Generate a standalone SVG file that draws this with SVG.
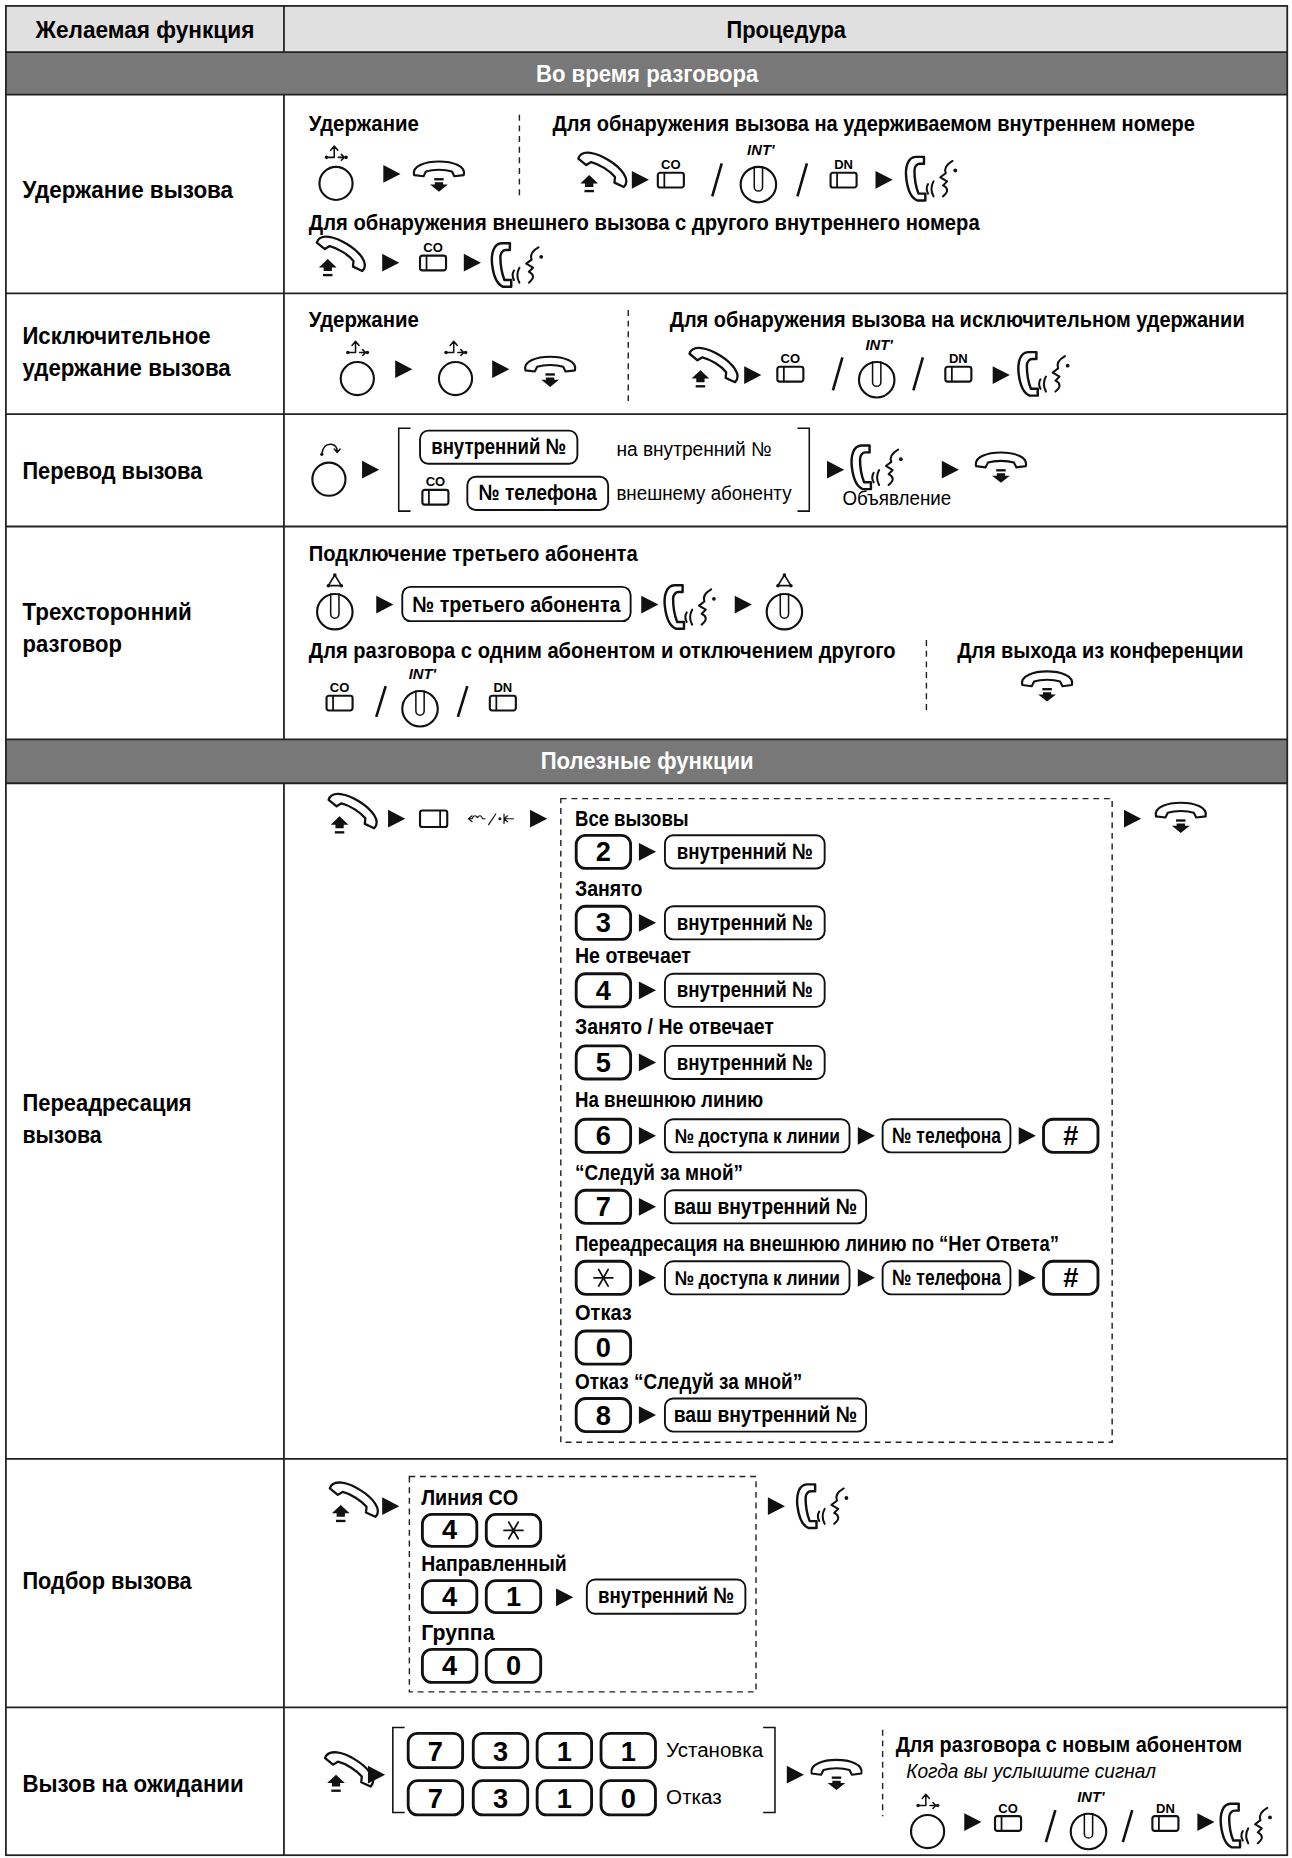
<svg xmlns="http://www.w3.org/2000/svg" width="1292" height="1858" viewBox="0 0 1292 1858">
<style>
text{font-family:"Liberation Sans Narrow","Liberation Sans",Arial,sans-serif;fill:#000}
.b{font-weight:bold;font-size:20px}
.s{font-weight:bold;font-size:19px}
.bx{font-weight:bold;font-size:18.5px;text-anchor:middle}
.n{font-weight:normal;font-size:17px}
.it{font-weight:normal;font-style:italic;font-size:17px}
.w{fill:#fff}
.k{font-weight:bold;font-size:23px;text-anchor:middle}
.lbl{font-family:"Liberation Sans",Arial,sans-serif;font-weight:bold;font-size:11px;text-anchor:middle}
.intl{font-family:"Liberation Sans",Arial,sans-serif;font-weight:bold;font-style:italic;font-size:12.5px;text-anchor:middle}
.grid{stroke:#222;stroke-width:1.5;fill:none}
.dash{stroke:#222;stroke-width:1.2;stroke-dasharray:5 4;fill:none}
.box{fill:#fff;stroke:#111;stroke-width:1.6}
.key{fill:#fff;stroke:#111;stroke-width:2.4}
.ic{fill:#fff;stroke:#111;stroke-width:1.8;stroke-linejoin:round}
.cl{fill:#fff;stroke:#111;stroke-width:1.8}
.thin{fill:none;stroke:#111;stroke-width:1.3;stroke-linecap:round;stroke-linejoin:round}
.ln2{fill:none;stroke:#111;stroke-width:1.5;stroke-linecap:round;stroke-linejoin:round}
.sl{stroke:#111;stroke-width:2.2}
.br{fill:none;stroke:#111;stroke-width:1.3}
</style>
<defs>
<polygon id="tri" points="-7,-7.5 7.5,0 -7,7.5" fill="#111"/>
<path id="hs" d="M-21,0 C-23,-8 -11,-11.5 0,-11.5 C11,-11.5 23,-8 21,0 L13,1 L11,-3 C5,-5 -5,-5 -11,-3 L-13,1 Z"/>
<g id="onhook"><use href="#hs" class="ic"/><path d="M-4,3.5 H4" stroke="#111" stroke-width="2"/><polygon points="-3.5,6 3.5,6 3.5,8 7.5,8 0,14 -7.5,8 -3.5,8" fill="#111"/></g>
<g id="offhook"><use href="#hs" class="ic" transform="translate(4,-4) rotate(32) scale(1.08)"/><polygon points="-6,-2 1.5,5 -2.5,5 -2.5,8 -9.5,8 -9.5,5 -13.5,5" fill="#111"/><path d="M-10,11.5 H-2" stroke="#111" stroke-width="2"/></g>
<g id="talk"><g transform="scale(1.15)"><path class="ic" d="M-7,-16 L-13,-16 C-19,-16 -21,-8 -20,0 C-19,8 -17,14 -12,16 L-6,16 L-6,11 L-11,11 C-13,6 -14,0 -14,-6 C-14,-9 -12,-11 -10,-11 L-7,-11 Z"/><path class="ln2" d="M-4,4 Q-6,7.5 -4,11 M0,2 Q-3,7.5 0,13"/><path class="ln2" d="M14,-13 Q7,-9 9,-4 L5,-1 L10,2 L7,5 Q13,8 7,13"/><circle cx="16" cy="-6" r="1.4" fill="#111"/></g></g>
<g id="hold"><circle r="14" class="cl"/><path class="thin" d="M-7,-22 H-1.5 V-31 M-4.5,-28 L-1.5,-31.5 L1.5,-28 M2,-22 H7 M4.5,-24.5 L7,-22 L4.5,-19.5"/><circle cx="-8" cy="-22" r="1.5" fill="#111"/><circle cx="8.5" cy="-22" r="1.5" fill="#111"/></g>
<g id="xfer"><circle r="14" class="cl"/><path class="thin" d="M-6,-21 Q-5,-30 2,-29.5 Q7,-29 7,-23 M4.5,-25.5 L7,-22.5 L9.5,-25.5"/><circle cx="-6" cy="-21" r="1.4" fill="#111"/></g>
<path id="slot" class="thin" d="M-3.5,-15 V2 A3.5,3.5 0 0 0 3.5,2 V-15"/>
<g id="conf"><circle r="15" class="cl"/><use href="#slot"/><polygon points="0,-31 -5.5,-22 5.5,-22" fill="none" stroke="#111" stroke-width="1.4"/><circle cx="0" cy="-31" r="1.5" fill="#111"/><circle cx="-5.5" cy="-22" r="1.5" fill="#111"/><circle cx="5.5" cy="-22" r="1.5" fill="#111"/></g>
<g id="int"><circle r="15" class="cl"/><use href="#slot"/><text x="2" y="-25" class="intl">INT'</text></g>
<g id="co"><text y="-9" class="lbl">CO</text><rect x="-11" y="-6" width="22" height="12.5" rx="2" class="ic"/><path d="M-5.5,-6 V6.5" stroke="#111" stroke-width="1.5"/></g>
<g id="dn"><text y="-9" class="lbl">DN</text><rect x="-11" y="-6" width="22" height="12.5" rx="2" class="ic"/><path d="M-5.5,-6 V6.5" stroke="#111" stroke-width="1.5"/></g>
<path id="ast" class="ln2" d="M-8,0 H8 M-4,-7 L4,7 M-4,7 L4,-7"/>
</defs>
<rect width="1292" height="1858" fill="#fff"/>
<g transform="scale(1.18315)">

<g id="table">
<rect x="5" y="5" width="1083" height="39" fill="#e0e0e0"/>
<rect x="5" y="44" width="1083" height="36" fill="#787878"/>
<rect x="5" y="625" width="1083" height="37" fill="#787878"/>
<rect x="5" y="5" width="1083" height="1563" class="grid"/>
<path class="grid" d="M5,44 H1088 M5,80 H1088 M5,248 H1088 M5,350 H1088 M5,445 H1088 M5,625 H1088 M5,662 H1088 M5,1233 H1088 M5,1443 H1088 M240,5 V44 M240,80 V625 M240,662 V1568"/>
<text class="b" x="30" y="32" textLength="185" lengthAdjust="spacingAndGlyphs">Желаемая функция</text>
<text class="b" x="614" y="32" textLength="101" lengthAdjust="spacingAndGlyphs">Процедура</text>
<text class="b w" x="453" y="69" textLength="188" lengthAdjust="spacingAndGlyphs">Во время разговора</text>
<text class="b w" x="457" y="650" textLength="180" lengthAdjust="spacingAndGlyphs">Полезные функции</text>
</g>

<g id="row-hold">
<text class="b" x="19" y="167" textLength="178" lengthAdjust="spacingAndGlyphs">Удержание вызова</text>
<text class="s" x="261" y="111" textLength="93" lengthAdjust="spacingAndGlyphs">Удержание</text>
<text class="s" x="467" y="111" textLength="543" lengthAdjust="spacingAndGlyphs">Для обнаружения вызова на удерживаемом внутреннем номере</text>
<path class="dash" d="M439,97 V165"/>
<use href="#hold" x="284" y="155"/>
<use href="#onhook" x="371" y="148"/>
<use href="#offhook" x="504" y="150"/>
<use href="#co" x="567" y="152"/>
<use href="#int" x="641" y="156"/>
<use href="#dn" x="713" y="152"/>
<use href="#talk" x="789" y="151"/>
<text class="s" x="261" y="194" textLength="567" lengthAdjust="spacingAndGlyphs">Для обнаружения внешнего вызова с другого внутреннего номера</text>
<use href="#offhook" x="283" y="221"/>
<use href="#co" x="366" y="222"/>
<use href="#talk" x="439" y="224"/>
</g>

<g id="row-exclusive">
<text class="b" x="19" y="291" textLength="159" lengthAdjust="spacingAndGlyphs">Исключительное</text>
<text class="b" x="19" y="318" textLength="176" lengthAdjust="spacingAndGlyphs">удержание вызова</text>
<text class="s" x="261" y="276" textLength="93" lengthAdjust="spacingAndGlyphs">Удержание</text>
<text class="s" style="font-size:18px" x="566" y="276" textLength="486" lengthAdjust="spacingAndGlyphs">Для обнаружения вызова на исключительном удержании</text>
<path class="dash" d="M531,262 V340"/>
<use href="#hold" x="302" y="320"/>
<use href="#hold" x="385" y="320"/>
<use href="#onhook" x="465" y="313"/>
<use href="#offhook" x="598" y="315"/>
<use href="#co" x="668" y="316"/>
<use href="#int" x="741" y="321"/>
<use href="#dn" x="810" y="316"/>
<use href="#talk" x="884" y="316"/>
</g>

<g id="row-transfer">
<text class="b" x="19" y="405" textLength="152" lengthAdjust="spacingAndGlyphs">Перевод вызова</text>
<use href="#xfer" x="278" y="405"/>
<path class="br" d="M347,362 H337 V432 H347 M674,362 H684 V432 H674"/>
<rect x="355" y="364" width="133" height="28" rx="7" class="box"/>
<text class="bx" x="421.5" y="384" textLength="114" lengthAdjust="spacingAndGlyphs">внутренний №</text>
<text class="n" x="521" y="385" textLength="131" lengthAdjust="spacingAndGlyphs">на внутренний №</text>
<use href="#co" x="368" y="420"/>
<rect x="395" y="403" width="119" height="28" rx="7" class="box"/>
<text class="bx" x="454.5" y="423" textLength="100" lengthAdjust="spacingAndGlyphs">№ телефона</text>
<text class="n" x="521" y="423" textLength="148" lengthAdjust="spacingAndGlyphs">внешнему абоненту</text>
<use href="#talk" x="743" y="395"/>
<text class="n" x="712" y="427" textLength="92" lengthAdjust="spacingAndGlyphs">Объявление</text>
<use href="#onhook" x="846" y="394"/>
</g>

<g id="row-conference">
<text class="b" x="19" y="524" textLength="143" lengthAdjust="spacingAndGlyphs">Трехсторонний</text>
<text class="b" x="19" y="551" textLength="84" lengthAdjust="spacingAndGlyphs">разговор</text>
<text class="s" x="261" y="474" textLength="278" lengthAdjust="spacingAndGlyphs">Подключение третьего абонента</text>
<use href="#conf" x="283" y="517"/>
<rect x="340" y="496" width="193" height="29" rx="7" class="box"/>
<text class="bx" x="436.5" y="517" textLength="176" lengthAdjust="spacingAndGlyphs">№ третьего абонента</text>
<use href="#talk" x="585" y="513"/>
<use href="#conf" x="663" y="517"/>
<text class="s" style="font-size:18px" x="261" y="556" textLength="496" lengthAdjust="spacingAndGlyphs">Для разговора с одним абонентом и отключением другого</text>
<path class="dash" d="M783,541 V604"/>
<text class="s" style="font-size:18px" x="809" y="556" textLength="242" lengthAdjust="spacingAndGlyphs">Для выхода из конференции</text>
<use href="#co" x="287" y="594"/>
<use href="#int" x="355" y="599"/>
<use href="#dn" x="425" y="594"/>
<use href="#onhook" x="885" y="579"/>
</g>

<g id="row-forward">
<text class="b" x="19" y="939" textLength="143" lengthAdjust="spacingAndGlyphs">Переадресация</text>
<text class="b" x="19" y="966" textLength="67" lengthAdjust="spacingAndGlyphs">вызова</text>
<use href="#offhook" x="293" y="692"/>
<rect x="355" y="685" width="23" height="14" rx="2" class="ic"/>
<path d="M372,685 V699" stroke="#111" stroke-width="1.5"/>
<path class="thin" style="stroke-width:1" d="M396,692 L399,689.5 M396,692 L399,694.5 M396,692 H399 Q401,687.5 403.5,691 Q406,687.5 408,692 H410 M413,697 L419,688 M426,688 V696 M426,692 H434 M426,692 L429,689.5 M426,692 L429,694.5"/>
<circle cx="422.5" cy="692" r="1.3" fill="#111"/>
<rect x="474" y="675" width="466" height="544" class="dash"/>
<use href="#onhook" x="998" y="690"/>

<text class="s" x="486" y="698" textLength="96" lengthAdjust="spacingAndGlyphs">Все вызовы</text>
<rect x="487" y="706" width="46" height="28" rx="8" class="key"/><text class="k" x="510" y="728">2</text>
<rect x="562" y="706" width="135" height="28" rx="7" class="box"/><text class="bx" x="629.5" y="726" textLength="115" lengthAdjust="spacingAndGlyphs">внутренний №</text>

<text class="s" x="486" y="757" textLength="57" lengthAdjust="spacingAndGlyphs">Занято</text>
<rect x="487" y="766" width="46" height="28" rx="8" class="key"/><text class="k" x="510" y="788">3</text>
<rect x="562" y="766" width="135" height="28" rx="7" class="box"/><text class="bx" x="629.5" y="786" textLength="115" lengthAdjust="spacingAndGlyphs">внутренний №</text>

<text class="s" x="486" y="814" textLength="98" lengthAdjust="spacingAndGlyphs">Не отвечает</text>
<rect x="487" y="823" width="46" height="28" rx="8" class="key"/><text class="k" x="510" y="845">4</text>
<rect x="562" y="823" width="135" height="28" rx="7" class="box"/><text class="bx" x="629.5" y="843" textLength="115" lengthAdjust="spacingAndGlyphs">внутренний №</text>

<text class="s" x="486" y="874" textLength="168" lengthAdjust="spacingAndGlyphs">Занято / Не отвечает</text>
<rect x="487" y="884" width="46" height="28" rx="8" class="key"/><text class="k" x="510" y="906">5</text>
<rect x="562" y="884" width="135" height="28" rx="7" class="box"/><text class="bx" x="629.5" y="904" textLength="115" lengthAdjust="spacingAndGlyphs">внутренний №</text>

<text class="s" x="486" y="936" textLength="159" lengthAdjust="spacingAndGlyphs">На внешнюю линию</text>
<rect x="487" y="946" width="46" height="28" rx="8" class="key"/><text class="k" x="510" y="968">6</text>
<rect x="562" y="946" width="156" height="28" rx="7" class="box"/><text class="bx" style="font-size:17px" x="640" y="966" textLength="140" lengthAdjust="spacingAndGlyphs">№ доступа к линии</text>
<rect x="746" y="946" width="108" height="28" rx="7" class="box"/><text class="bx" x="800" y="966" textLength="92" lengthAdjust="spacingAndGlyphs">№ телефона</text>
<rect x="882" y="946" width="46" height="28" rx="8" class="key"/><text class="k" x="905" y="968">#</text>

<text class="s" x="486" y="997" textLength="142" lengthAdjust="spacingAndGlyphs">“Следуй за мной”</text>
<rect x="487" y="1006" width="46" height="28" rx="8" class="key"/><text class="k" x="510" y="1028">7</text>
<rect x="562" y="1006" width="170" height="28" rx="7" class="box"/><text class="bx" x="647" y="1026" textLength="155" lengthAdjust="spacingAndGlyphs">ваш внутренний №</text>

<text class="s" x="486" y="1057" textLength="409" lengthAdjust="spacingAndGlyphs">Переадресация на внешнюю линию по “Нет Ответа”</text>
<rect x="487" y="1066" width="46" height="28" rx="8" class="key"/><use href="#ast" x="510" y="1080"/>
<rect x="562" y="1066" width="156" height="28" rx="7" class="box"/><text class="bx" style="font-size:17px" x="640" y="1086" textLength="140" lengthAdjust="spacingAndGlyphs">№ доступа к линии</text>
<rect x="746" y="1066" width="108" height="28" rx="7" class="box"/><text class="bx" x="800" y="1086" textLength="92" lengthAdjust="spacingAndGlyphs">№ телефона</text>
<rect x="882" y="1066" width="46" height="28" rx="8" class="key"/><text class="k" x="905" y="1088">#</text>

<text class="s" x="486" y="1116" textLength="48" lengthAdjust="spacingAndGlyphs">Отказ</text>
<rect x="487" y="1125" width="46" height="28" rx="8" class="key"/><text class="k" x="510" y="1147">0</text>

<text class="s" x="486" y="1174" textLength="192" lengthAdjust="spacingAndGlyphs">Отказ “Следуй за мной”</text>
<rect x="487" y="1182" width="46" height="28" rx="8" class="key"/><text class="k" x="510" y="1204">8</text>
<rect x="562" y="1182" width="170" height="28" rx="7" class="box"/><text class="bx" x="647" y="1202" textLength="155" lengthAdjust="spacingAndGlyphs">ваш внутренний №</text>
</g>

<g id="row-pickup">
<text class="b" x="19" y="1343" textLength="143" lengthAdjust="spacingAndGlyphs">Подбор вызова</text>
<use href="#offhook" x="294" y="1274"/>
<rect x="346" y="1248" width="293" height="182" class="dash"/>
<text class="s" x="356" y="1272" textLength="82" lengthAdjust="spacingAndGlyphs">Линия CO</text>
<rect x="357" y="1280" width="46" height="27" rx="8" class="key"/><text class="k" x="380" y="1301">4</text>
<rect x="411" y="1280" width="46" height="27" rx="8" class="key"/><use href="#ast" x="434" y="1293.5"/>
<text class="s" x="356" y="1328" textLength="123" lengthAdjust="spacingAndGlyphs">Направленный</text>
<rect x="357" y="1336" width="46" height="27" rx="8" class="key"/><text class="k" x="380" y="1357">4</text>
<rect x="411" y="1336" width="46" height="27" rx="8" class="key"/><text class="k" x="434" y="1357">1</text>
<rect x="496" y="1335" width="134" height="29" rx="7" class="box"/><text class="bx" x="563" y="1355" textLength="115" lengthAdjust="spacingAndGlyphs">внутренний №</text>
<text class="s" x="356" y="1386" textLength="62" lengthAdjust="spacingAndGlyphs">Группа</text>
<rect x="357" y="1394" width="46" height="28" rx="8" class="key"/><text class="k" x="380" y="1416">4</text>
<rect x="411" y="1394" width="46" height="28" rx="8" class="key"/><text class="k" x="434" y="1416">0</text>
<use href="#talk" x="697" y="1273"/>
</g>

<g id="row-waiting">
<text class="b" x="19" y="1515" textLength="187" lengthAdjust="spacingAndGlyphs">Вызов на ожидании</text>
<use href="#offhook" x="290" y="1502"/>
<path class="br" d="M342,1460 H332 V1532 H342 M645,1460 H655 V1532 H645"/>
<rect x="345" y="1465" width="46" height="29" rx="8" class="key"/><text class="k" x="368" y="1488">7</text>
<rect x="400" y="1465" width="46" height="29" rx="8" class="key"/><text class="k" x="423" y="1488">3</text>
<rect x="454" y="1465" width="46" height="29" rx="8" class="key"/><text class="k" x="477" y="1488">1</text>
<rect x="508" y="1465" width="46" height="29" rx="8" class="key"/><text class="k" x="531" y="1488">1</text>
<text class="n" x="563" y="1485" textLength="82" lengthAdjust="spacingAndGlyphs">Установка</text>
<rect x="345" y="1505" width="46" height="29" rx="8" class="key"/><text class="k" x="368" y="1528">7</text>
<rect x="400" y="1505" width="46" height="29" rx="8" class="key"/><text class="k" x="423" y="1528">3</text>
<rect x="454" y="1505" width="46" height="29" rx="8" class="key"/><text class="k" x="477" y="1528">1</text>
<rect x="508" y="1505" width="46" height="29" rx="8" class="key"/><text class="k" x="531" y="1528">0</text>
<text class="n" x="563" y="1525" textLength="47" lengthAdjust="spacingAndGlyphs">Отказ</text>
<use href="#onhook" x="707" y="1499"/>
<path class="dash" d="M746,1462 V1535"/>
<text class="s" x="757" y="1481" textLength="293" lengthAdjust="spacingAndGlyphs">Для разговора с новым абонентом</text>
<text class="it" x="766" y="1503" textLength="211" lengthAdjust="spacingAndGlyphs">Когда вы услышите сигнал</text>
<use href="#hold" x="784" y="1548"/>
<use href="#co" x="852" y="1541"/>
<use href="#int" x="920" y="1548"/>
<use href="#dn" x="985" y="1541"/>
<use href="#talk" x="1055" y="1543"/>
</g>

<g id="connectors">
<use href="#tri" x="331" y="147"/>
<use href="#tri" x="541" y="152"/>
<line class="sl" x1="610" y1="138" x2="602" y2="166"/>
<line class="sl" x1="682" y1="138" x2="674" y2="166"/>
<use href="#tri" x="747" y="152"/>
<use href="#tri" x="330" y="222"/>
<use href="#tri" x="399" y="222"/>
<use href="#tri" x="341" y="312"/>
<use href="#tri" x="423" y="312"/>
<use href="#tri" x="636" y="317"/>
<line class="sl" x1="712" y1="302" x2="704" y2="330"/>
<line class="sl" x1="780" y1="302" x2="772" y2="330"/>
<use href="#tri" x="846" y="317"/>
<use href="#tri" x="313" y="397"/>
<use href="#tri" x="706" y="397"/>
<use href="#tri" x="803" y="397"/>
<use href="#tri" x="325" y="511"/>
<use href="#tri" x="549" y="511"/>
<use href="#tri" x="628" y="511"/>
<line class="sl" x1="326" y1="580" x2="318" y2="606"/>
<line class="sl" x1="395" y1="580" x2="387" y2="606"/>
<use href="#tri" x="335" y="692"/>
<use href="#tri" x="455" y="692"/>
<use href="#tri" x="957" y="692"/>
<use href="#tri" x="547" y="720"/>
<use href="#tri" x="547" y="780"/>
<use href="#tri" x="547" y="837"/>
<use href="#tri" x="547" y="898"/>
<use href="#tri" x="547" y="960"/>
<use href="#tri" x="732" y="960"/>
<use href="#tri" x="868" y="960"/>
<use href="#tri" x="547" y="1020"/>
<use href="#tri" x="547" y="1080"/>
<use href="#tri" x="732" y="1080"/>
<use href="#tri" x="868" y="1080"/>
<use href="#tri" x="547" y="1196"/>
<use href="#tri" x="330" y="1273"/>
<use href="#tri" x="477" y="1350"/>
<use href="#tri" x="656" y="1273"/>
<use href="#tri" x="318" y="1500"/>
<use href="#tri" x="672" y="1500"/>
<use href="#tri" x="822" y="1540"/>
<line class="sl" x1="892" y1="1530" x2="884" y2="1557"/>
<line class="sl" x1="957" y1="1530" x2="949" y2="1557"/>
<use href="#tri" x="1019" y="1540"/>
</g>
</g>
</svg>
